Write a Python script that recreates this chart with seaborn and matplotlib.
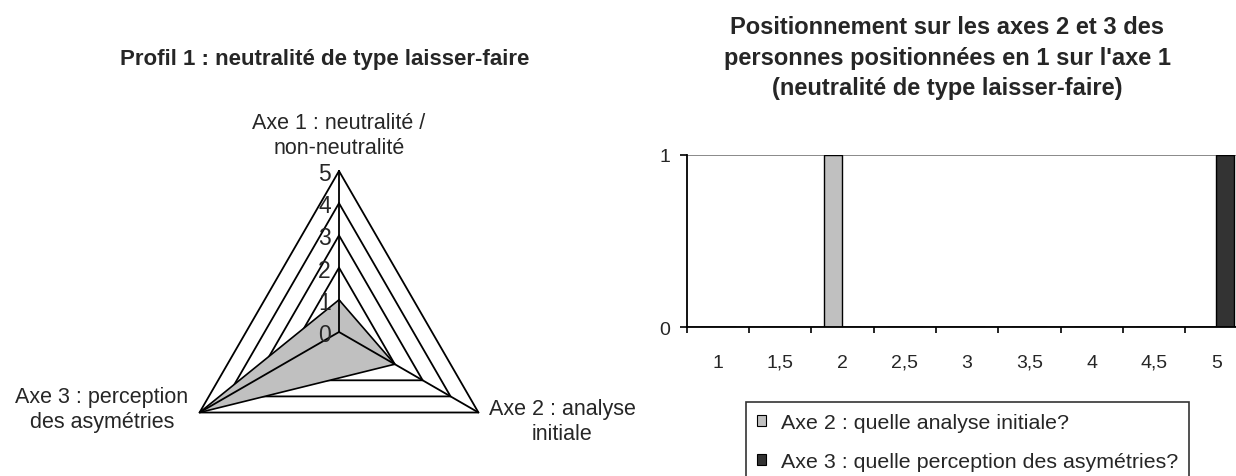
import numpy as np
import pandas as pd
import seaborn as sns
import matplotlib.pyplot as plt
from matplotlib.patches import Patch

# %% data
radar_axes = ["Axe 1 : neutralité /\nnon-neutralité", "Axe 2 : analyse\ninitiale", "Axe 3 : perception\ndes asymétries"]
radar_values = [1, 2, 5]
radar_levels = [0, 1, 2, 3, 4, 5]

positions = ["1", "1,5", "2", "2,5", "3", "3,5", "4", "4,5", "5"]
axe2_counts = [0, 0, 1, 0, 0, 0, 0, 0, 0]
axe3_counts = [0, 0, 0, 0, 0, 0, 0, 0, 1]
series = ["Axe 2 : quelle analyse initiale?", "Axe 3 : quelle perception des asymétries?"]
colors = ["#C0C0C0", "#333333"]

title_left = "Profil 1 : neutralité de type laisser-faire"
title_right = "Positionnement sur les axes 2 et 3 des\npersonnes positionnées en 1 sur l'axe 1\n(neutralité de type laisser-faire)"

# %% style
sns.set_theme(style="white")
plt.rcParams["font.family"] = ["Liberation Sans", "DejaVu Sans"]
fs = 15.5      # radar labels
fs_leg = 15.4
fs_tick = 14
fs_title = 17

W, H = 1236, 477
fig = plt.figure(figsize=(W / 100, H / 100), dpi=100)

# %% left : radar
u = 5 / 161  # data units per pixel
cx, cy = 339, 333
axl = fig.add_axes([0, 0, 636 / W, 1])
axl.set_xlim(-cx * u, (636 - cx) * u)
axl.set_ylim(-(H - cy) * u, cy * u)
axl.axis("off")

angles = np.deg2rad([90, -30, 210])

def pts(r):
    r = np.asarray(r, dtype=float)
    x = r * np.cos(angles)
    y = r * np.sin(angles)
    return np.append(x, x[0]), np.append(y, y[0])

for lev in radar_levels[1:]:
    x, y = pts([lev] * 3)
    axl.plot(x, y, color="black", lw=1.3, zorder=1)

x, y = pts(radar_values)
axl.fill(x, y, facecolor="#C0C0C0", edgecolor="black", lw=1.2, zorder=2)

for a in angles:
    axl.plot([0, 5 * np.cos(a)], [0, 5 * np.sin(a)], color="black", lw=1.3, zorder=3)

for lev in radar_levels:
    axl.text(-8 * u, lev, str(lev), ha="right", va="center_baseline", fontsize=16.5, zorder=4)

label_pos = [(0, (cy - 136) * u), ((562 - cx) * u, (cy - 422) * u), ((102 - cx) * u, (cy - 410) * u)]
for lab, (lx, ly) in zip(radar_axes, label_pos):
    axl.text(lx, ly, lab, ha="center", va="center", multialignment="center",
             fontsize=fs, linespacing=1.2, clip_on=True)

fig.text(325 / W, 1 - 60 / H, title_left, ha="center", va="center", fontsize=16, weight="bold")

# %% right : bars
df = pd.DataFrame({
    "position": positions * 2,
    "count": axe2_counts + axe3_counts,
    "serie": [series[0]] * len(positions) + [series[1]] * len(positions),
})

x0, x1, y0, y1 = 686.7, 1247.5, 156, 328.3
axr = fig.add_axes([x0 / W, 1 - y1 / H, (x1 - x0) / W, (y1 - y0) / H])
sns.barplot(data=df, x="position", y="count", hue="serie", order=positions, hue_order=series,
            palette=colors, width=0.58, edgecolor="black", linewidth=1, errorbar=None,
            legend=False, ax=axr)
axr.set_xlim(-0.5, len(positions) - 0.5)
axr.set_ylim(0, 1)
axr.set_yticks([0, 1])
axr.set_xlabel("")
axr.set_ylabel("")
axr.set_axisbelow(True)
axr.yaxis.grid(True, color="#808080", lw=1.3)
axr.xaxis.grid(False)
axr.set_xticks(np.arange(-0.5, len(positions), 1), minor=True)
axr.tick_params(axis="x", which="major", length=0, pad=19, labelsize=fs_tick)
axr.tick_params(axis="x", which="minor", length=4.5, width=1.2, color="black", direction="out", bottom=True)
axr.tick_params(axis="y", length=4.8, width=1.2, color="black", direction="out", left=True, pad=7, labelsize=fs_tick)
for side in ["top", "right"]:
    axr.spines[side].set_visible(False)
for side in ["left", "bottom"]:
    axr.spines[side].set_color("black")
    axr.spines[side].set_linewidth(1.3)

handles = [Patch(facecolor=c, edgecolor="black", lw=0.8) for c in colors]
leg = fig.legend(handles, series, loc="upper left", bbox_to_anchor=(746 / W, 1 - 403 / H),
                 borderaxespad=0, frameon=True, fancybox=False, edgecolor="black",
                 fontsize=fs_leg, handlelength=0.4, handleheight=0.4, handletextpad=0.7,
                 labelspacing=0.95, borderpad=0.52)
leg.get_frame().set_linewidth(1.2)

fig.text(947 / W, 1 - 58 / H, title_right, ha="center", va="center", fontsize=fs_title,
         weight="bold", linespacing=1.42)

fig.savefig("out.png", dpi=100)
